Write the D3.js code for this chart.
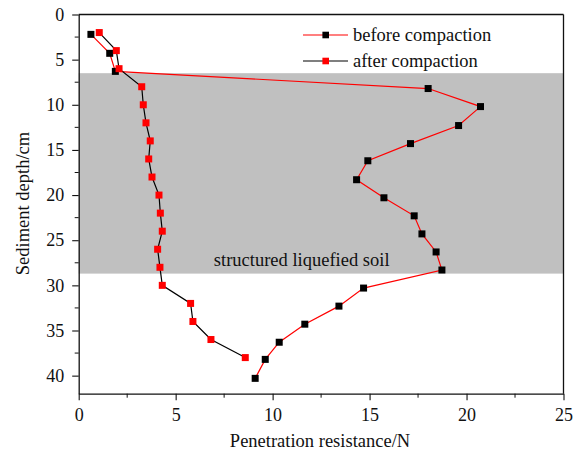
<!DOCTYPE html>
<html>
<head>
<meta charset="utf-8">
<script src="https://cdn.jsdelivr.net/npm/d3@7"></script>
<style>
  html, body { margin: 0; padding: 0; background: #fff; }
  svg text { font-family: "Liberation Serif", "Times New Roman", serif; fill: #111; }
</style>
</head>
<body>
<svg id="chart" width="579" height="454"></svg>
<script>
// Penetration resistance (N) versus sediment depth (cm)
const beforeDepth = [2.2, 4.3, 6.3, 8.2, 10.2, 12.3, 14.3, 16.2, 18.3, 20.3, 22.3, 24.3, 26.3, 28.3, 30.3, 32.3, 34.3, 36.3, 38.2, 40.3];
const beforeResistance = [0.63, 1.6, 1.89, 18.02, 20.72, 19.59, 17.11, 14.91, 14.33, 15.74, 17.3, 17.7, 18.43, 18.73, 14.69, 13.42, 11.66, 10.34, 9.62, 9.1];

const afterDepth = [2, 4, 6, 8, 10, 12, 14, 16, 18, 20, 22, 24, 26, 28, 30, 32, 34, 36, 38];
const afterResistance = [1.06, 1.94, 2.08, 3.25, 3.33, 3.47, 3.69, 3.61, 3.78, 4.14, 4.21, 4.31, 4.07, 4.19, 4.31, 5.77, 5.89, 6.82, 8.59];

const seriesNames = ["before compaction", "after compaction"];
const xTicks = [0, 5, 10, 15, 20, 25];
const yTicks = [0, 5, 10, 15, 20, 25, 30, 35, 40];
const layerBand = [6.5, 28.7];           // structured liquefied soil, depth range
const layerLabel = "structured liquefied soil";

const svg = d3.select("#chart");
const plotLeft = 78.7, plotRight = 563.5, plotTop = 14.5, plotBottom = 393.7;
const labelSize = 18.5, tickSize = 18;

const x = d3.scaleLinear().domain([0, 25]).range([plotLeft, plotRight]);
const y = d3.scaleLinear().domain([0, 42]).range([plotTop, plotBottom]);

// shaded soil layer
svg.append("rect")
  .attr("x", x(0)).attr("width", x(25) - x(0))
  .attr("y", y(layerBand[0])).attr("height", y(layerBand[1]) - y(layerBand[0]))
  .attr("fill", "#c0c0c0");

svg.append("text")
  .attr("x", x(11.5)).attr("y", y(layerBand[1]) - 7.3)
  .attr("text-anchor", "middle").attr("font-size", labelSize)
  .text(layerLabel);

// frame
svg.append("line").attr("x1", plotLeft).attr("x2", plotRight).attr("y1", plotTop).attr("y2", plotTop)
  .attr("stroke", "#111").attr("stroke-width", 1.3);
svg.append("line").attr("x1", plotRight).attr("x2", plotRight).attr("y1", plotTop).attr("y2", plotBottom)
  .attr("stroke", "#111").attr("stroke-width", 1.3);

// axes with minor ticks
const xMinor = d3.range(0, 25.01, 2.5).filter(v => !xTicks.includes(v));
const yMinor = d3.range(0, 42, 2.5).filter(v => !yTicks.includes(v));

const xAxis = svg.append("g").attr("transform", `translate(0,${plotBottom})`)
  .call(d3.axisBottom(x).tickValues(xTicks).tickSizeInner(6.5).tickSizeOuter(0).tickPadding(8));
xAxis.append("g").selectAll("line").data(xMinor).join("line")
  .attr("x1", d => x(d)).attr("x2", d => x(d)).attr("y1", 0).attr("y2", 4)
  .attr("stroke", "#111");

const yAxis = svg.append("g").attr("transform", `translate(${plotLeft},0)`)
  .call(d3.axisLeft(y).tickValues(yTicks).tickSizeInner(6.5).tickSizeOuter(0).tickPadding(8));
yAxis.append("g").selectAll("line").data(yMinor).join("line")
  .attr("x1", 0).attr("x2", -4).attr("y1", d => y(d)).attr("y2", d => y(d))
  .attr("stroke", "#111");

[xAxis, yAxis].forEach(g => {
  g.select(".domain").attr("stroke", "#111").attr("stroke-width", 1.3);
  g.selectAll(".tick line").attr("stroke", "#111").attr("stroke-width", 1.1);
  g.selectAll(".tick text").attr("font-size", tickSize)
    .attr("font-family", "'Liberation Serif', 'Times New Roman', serif").attr("fill", "#111");
});

// axis titles
svg.append("text").attr("x", 320).attr("y", 447)
  .attr("text-anchor", "middle").attr("font-size", labelSize)
  .text("Penetration resistance/N");
svg.append("text")
  .attr("transform", `translate(28.5,203.5) rotate(-90)`)
  .attr("text-anchor", "middle").attr("font-size", labelSize)
  .text("Sediment depth/cm");

// series
const beforePts = beforeDepth.map((d, i) => [beforeResistance[i], d]);
const afterPts = afterDepth.map((d, i) => [afterResistance[i], d]);
const line = d3.line().x(p => x(p[0])).y(p => y(p[1]));
const ms = 7;

function drawSeries(pts, lineColor, markerColor) {
  svg.append("path").datum(pts).attr("d", line)
    .attr("fill", "none").attr("stroke", lineColor).attr("stroke-width", 1.2);
  svg.append("g").selectAll("rect").data(pts).join("rect")
    .attr("x", p => x(p[0]) - ms / 2).attr("y", p => y(p[1]) - ms / 2)
    .attr("width", ms).attr("height", ms).attr("fill", markerColor);
}
drawSeries(beforePts, "#ff0000", "#000000");
drawSeries(afterPts, "#000000", "#ff0000");

// legend
const legendRows = [
  { name: seriesNames[0], line: "#ff0000", marker: "#000000", yy: 35 },
  { name: seriesNames[1], line: "#000000", marker: "#ff0000", yy: 61 }
];
const lg = svg.append("g");
legendRows.forEach(r => {
  lg.append("line").attr("x1", 303).attr("x2", 348).attr("y1", r.yy).attr("y2", r.yy)
    .attr("stroke", r.line).attr("stroke-width", 1.2);
  lg.append("rect").attr("x", 325.7 - 3.3).attr("y", r.yy - 3.3).attr("width", 6.6).attr("height", 6.6)
    .attr("fill", r.marker);
  lg.append("text").attr("x", 353).attr("y", r.yy + 5.5).attr("font-size", labelSize).text(r.name);
});
</script>
</body>
</html>
